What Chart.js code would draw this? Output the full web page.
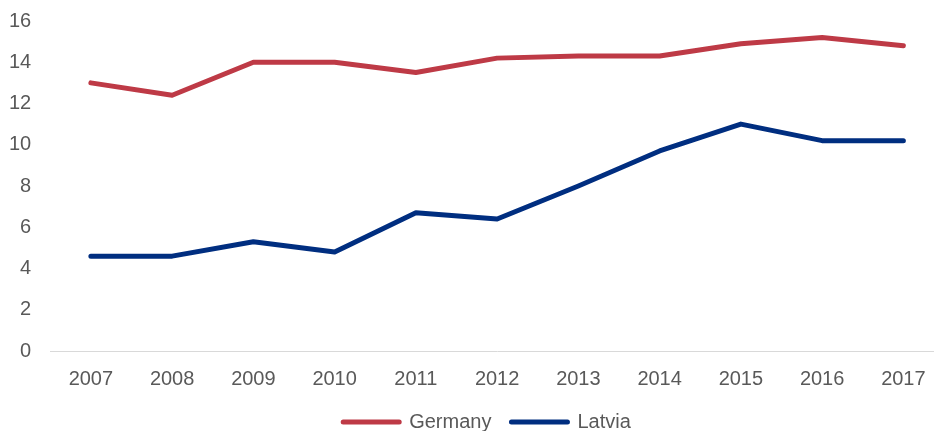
<!DOCTYPE html>
<html>
<head>
<meta charset="utf-8">
<script src="https://cdn.jsdelivr.net/npm/chart.js@4"></script>
<style>
  html, body { margin: 0; padding: 0; background: #fff; overflow: hidden; }
  #wrap { width: 984px; height: 431px; }
</style>
</head>
<body>
<div id="wrap"><canvas id="myChart"></canvas></div>
<script>
// years on the x axis
const years = ['2007', '2008', '2009', '2010', '2011', '2012', '2013', '2014', '2015', '2016', '2017'];
// values
const germany = [13.0, 12.4, 14.0, 14.0, 13.5, 14.2, 14.3, 14.3, 14.9, 15.2, 14.8];
const latvia = [4.6, 4.6, 5.3, 4.8, 6.7, 6.4, 8.0, 9.7, 11.0, 10.2, 10.2];

const font = { family: 'Liberation Sans, Arial, sans-serif', size: 20 };
const ctx = document.getElementById('myChart').getContext('2d');

new Chart(ctx, {
  type: 'line',
  data: {
    labels: years,
    datasets: [
      {
        label: 'Germany',
        borderColor: '#BE3A46',
        backgroundColor: '#BE3A46',
        borderWidth: 5,
        pointRadius: 0,
        tension: 0,
        borderCapStyle: 'round',
        borderJoinStyle: 'round',
        data: germany,
      },
      {
        label: 'Latvia',
        borderColor: '#002E80',
        backgroundColor: '#002E80',
        borderWidth: 5,
        pointRadius: 0,
        tension: 0,
        borderCapStyle: 'round',
        borderJoinStyle: 'round',
        data: latvia,
      },
    ],
  },
  options: {
    responsive: true,
    maintainAspectRatio: false,
    animation: false,
    layout: { padding: { left: -10, top: 21, right: 0, bottom: -11 } },
    plugins: {
      tooltip: { enabled: false },
      legend: {
        position: 'bottom',
        labels: {
          usePointStyle: true,
          pointStyle: 'line',
          pointStyleWidth: 56,
          padding: 20,
          color: '#595959',
          font: font,
          generateLabels: (chart) => chart.data.datasets.map((ds, i) => ({
            text: ds.label,
            fillStyle: ds.borderColor,
            strokeStyle: ds.borderColor,
            lineWidth: 5,
            lineCap: 'round',
            pointStyle: 'line',
            fontColor: '#595959',
            datasetIndex: i,
            hidden: false,
          })),
        },
      },
    },
    scales: {
      x: {
        offset: true,
        grid: { display: false, drawTicks: false },
        border: { display: true, color: '#D9D9D9', width: 1 },
        ticks: {
          color: '#595959',
          padding: 16,
          maxRotation: 0,
          font: font,
        },
        // let the plot take some of the legend's room, and stop it at the right edge
        afterFit: (scale) => {
          scale.height -= 15;
          scale.paddingRight = 40;
        },
      },
      y: {
        min: 0,
        max: 16,
        grid: { display: false, drawTicks: false },
        border: { display: false },
        ticks: {
          stepSize: 2,
          color: '#595959',
          padding: 19,
          font: font,
        },
        // tick padding should only push labels sideways, not shrink the plot
        afterFit: (scale) => {
          scale.paddingTop = 0;
          scale.paddingBottom = 0;
        },
      },
    },
  },
});
</script>
</body>
</html>
